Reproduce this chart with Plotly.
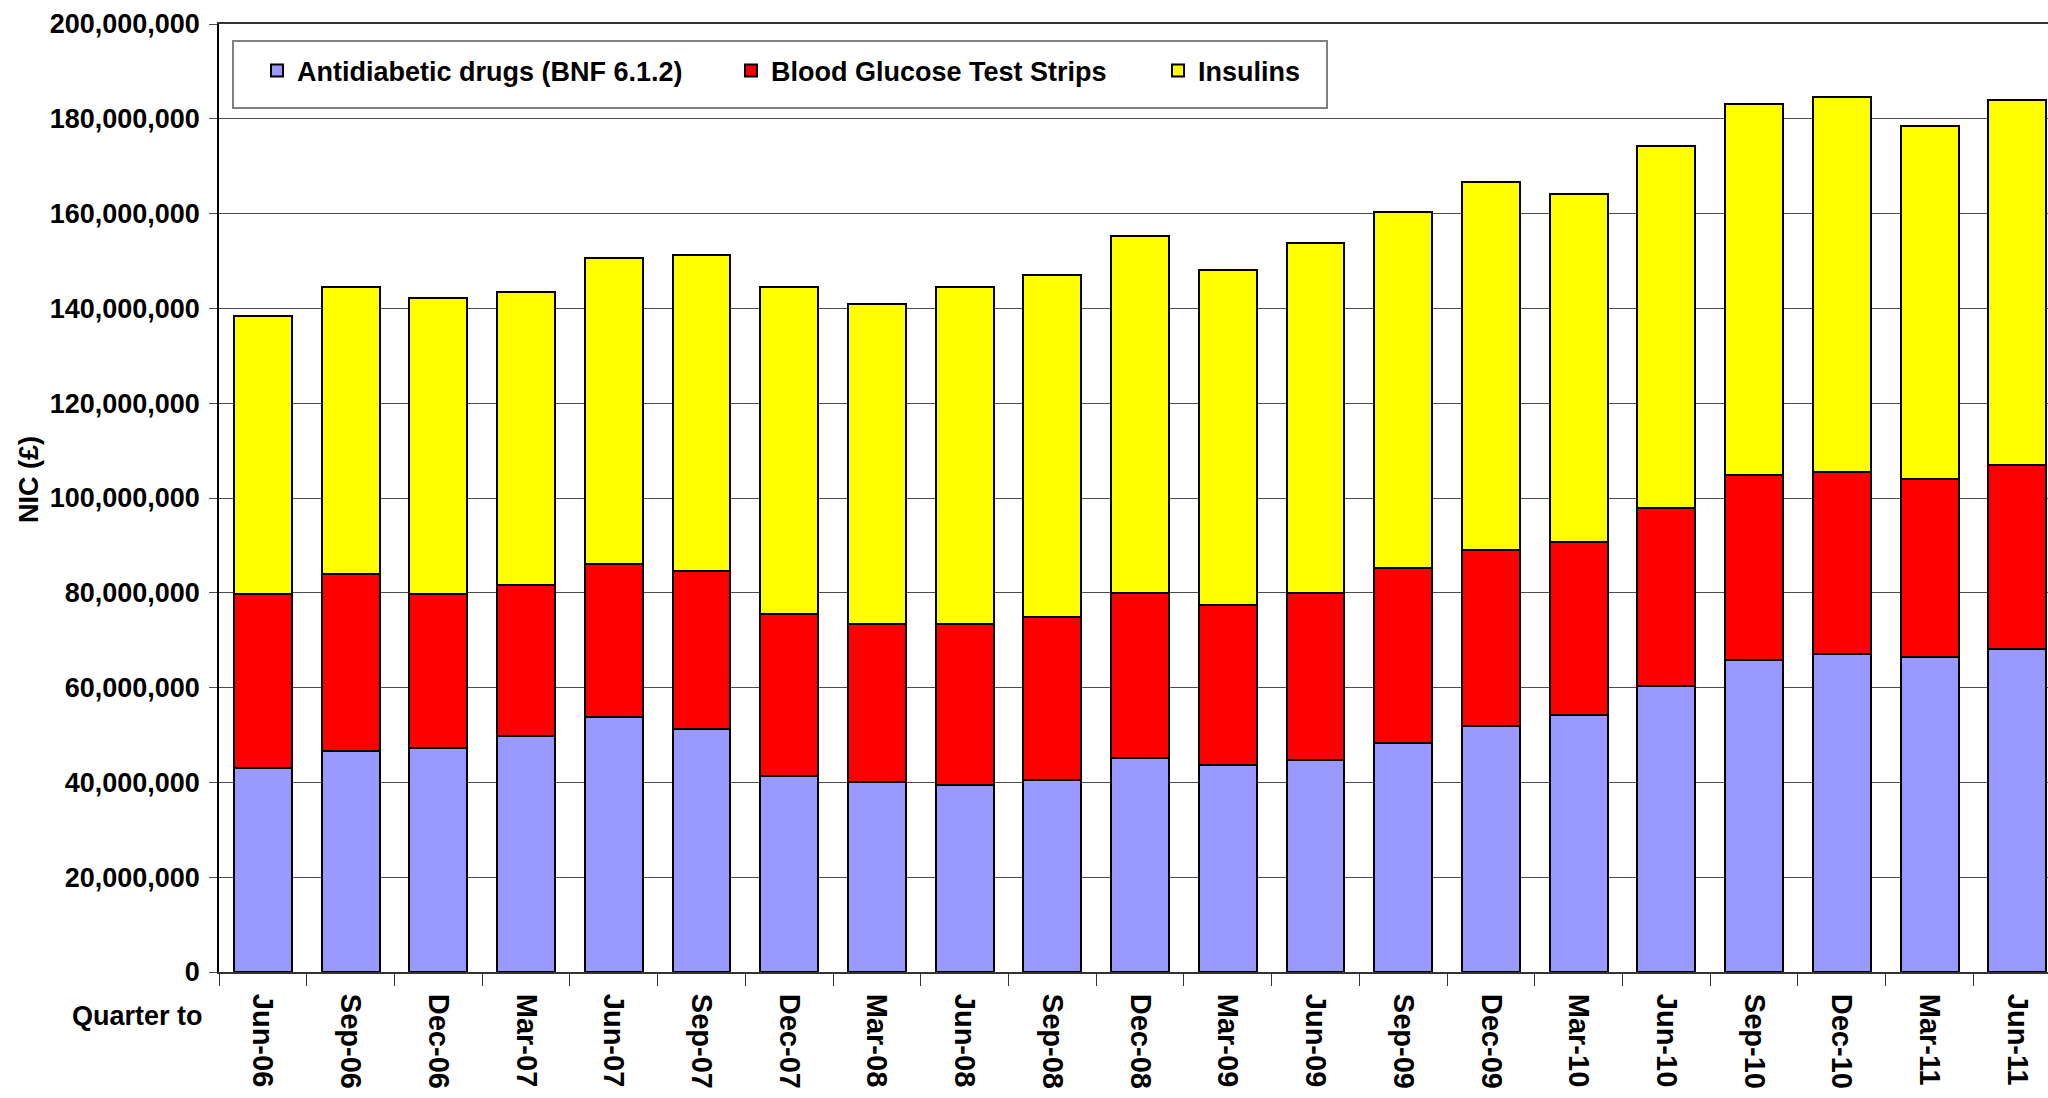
import plotly.graph_objects as go

quarters = ["Jun-06", "Sep-06", "Dec-06", "Mar-07", "Jun-07", "Sep-07", "Dec-07",
            "Mar-08", "Jun-08", "Sep-08", "Dec-08", "Mar-09", "Jun-09", "Sep-09",
            "Dec-09", "Mar-10", "Jun-10", "Sep-10", "Dec-10", "Mar-11", "Jun-11"]

antidiabetic = [43.0e6, 46.6e6, 47.2e6, 49.7e6, 53.8e6, 51.3e6, 41.4e6, 40.0e6, 39.4e6, 40.6e6,
                45.2e6, 43.6e6, 44.7e6, 48.3e6, 51.9e6, 54.3e6, 60.4e6, 65.9e6, 67.0e6, 66.5e6, 68.1e6]
test_strips = [36.7e6, 37.3e6, 32.5e6, 32.0e6, 32.3e6, 33.4e6, 34.2e6, 33.4e6, 34.0e6, 34.4e6,
               34.8e6, 33.9e6, 35.3e6, 36.9e6, 37.2e6, 36.5e6, 37.5e6, 38.9e6, 38.4e6, 37.5e6, 38.9e6]
insulins = [58.8e6, 60.7e6, 62.6e6, 61.7e6, 64.5e6, 66.5e6, 69.0e6, 67.6e6, 71.2e6, 72.0e6,
            75.3e6, 70.6e6, 73.7e6, 75.1e6, 77.5e6, 73.3e6, 76.4e6, 78.4e6, 79.2e6, 74.5e6, 77.0e6]

series_names = ["Antidiabetic drugs (BNF 6.1.2)", "Blood Glucose Test Strips", "Insulins"]
series_colors = ["#9999FF", "#FF0000", "#FFFF00"]

W, H = 2048, 1098
ML, MT, MB = 219, 24, 126
PW = W - ML
PH = H - MT - MB
FONT = "Liberation Sans, Arial, sans-serif"
FS = 27

fig = go.Figure()
legends = ["legend", "legend2", "legend3"]
for vals, name, col, lg in zip([antidiabetic, test_strips, insulins], series_names, series_colors, legends):
    fig.add_trace(go.Bar(x=quarters, y=vals, name=name, legend=lg, showlegend=True,
                         marker=dict(color=col, line=dict(color="black", width=2))))


def px_x(px):
    return (px - ML) / PW


def px_y(py):
    return (H - MB - py) / PH


legend_common = dict(orientation="h", xref="paper", yref="paper", xanchor="left",
                     yanchor="middle", bgcolor="rgba(0,0,0,0)", borderwidth=0,
                     font=dict(family=FONT, size=FS, color="black", weight="bold"))
leg_x = [257, 731, 1158]
leg_y = px_y(71)

fig.update_layout(
    width=W, height=H,
    showlegend=True,
    margin=dict(l=ML, r=0, t=MT, b=MB, pad=0, autoexpand=False),
    barmode="stack", bargap=0.34,
    plot_bgcolor="white", paper_bgcolor="white",
    font=dict(family=FONT, size=FS, color="black", weight="bold"),
    legend=dict(x=px_x(leg_x[0]), y=leg_y, **legend_common),
    legend2=dict(x=px_x(leg_x[1]), y=leg_y, **legend_common),
    legend3=dict(x=px_x(leg_x[2]), y=leg_y, **legend_common),
    xaxis=dict(type="category", range=[-0.5, 20.35], tickangle=90, ticks="outside",
               tickson="boundaries", ticklen=12, tickcolor="#333333", tickwidth=1,
               showline=True, linecolor="#333333", linewidth=2, mirror=True,
               showgrid=False, ticklabelstandoff=14,
               tickfont=dict(family=FONT, size=29, color="black", weight="bold")),
    yaxis=dict(range=[0, 2e8], dtick=2e7, tickformat=",d", showgrid=True,
               gridcolor="#4d4d4d", gridwidth=1, zeroline=False,
               showline=True, linecolor="black", linewidth=1.5,
               ticks="outside", ticklen=8, tickcolor="#4d4d4d", ticklabelstandoff=4,
               tickfont=dict(family=FONT, size=FS, color="black", weight="bold")),
    shapes=[dict(type="rect", xref="paper", yref="paper",
                 x0=px_x(233), x1=px_x(1327), y0=px_y(108), y1=px_y(41),
                 line=dict(color="#808080", width=2), fillcolor="white", layer="below")],
    annotations=[
        dict(text="NIC (£)", xref="paper", yref="paper", x=px_x(29), y=px_y(480),
             textangle=-90, showarrow=False, xanchor="center", yanchor="middle",
             font=dict(family=FONT, size=FS, color="black", weight="bold")),
        dict(text="Quarter to", xref="paper", yref="paper", x=px_x(137), y=px_y(1016),
             showarrow=False, xanchor="center", yanchor="middle",
             font=dict(family=FONT, size=FS, color="black", weight="bold")),
    ],
)

fig.write_html("out.html", config={"displayModeBar": False},
               post_script="document.body.style.margin='0px';document.body.style.overflow='hidden';")
